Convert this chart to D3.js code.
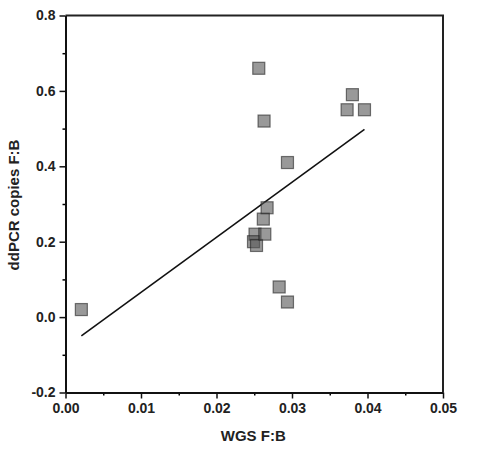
<!DOCTYPE html>
<html>
<head>
<meta charset="utf-8">
<script src="https://cdnjs.cloudflare.com/ajax/libs/d3/7.8.5/d3.min.js"></script>
<style>
  body { margin: 0; background: #fff; }
  text { font-family: "Liberation Sans", Arial, sans-serif; font-weight: bold; }
</style>
</head>
<body>
<div class="chart"></div>
<script>
// measured points (WGS F:B vs ddPCR copies F:B)
var wgs   = [0.0021, 0.0251, 0.0249, 0.0253, 0.0262, 0.0264, 0.0267, 0.0256, 0.0263, 0.0283, 0.0294, 0.0294, 0.0373, 0.0380, 0.0396];
var ddpcr = [0.02,   0.22,   0.20,   0.19,   0.26,   0.22,   0.29,   0.66,   0.52,   0.08,   0.04,   0.41,   0.55,   0.59,   0.55];
// fitted line end points
var fitX = [0.0021, 0.0396];
var fitY = [-0.05, 0.498];
var xTicks = [0, 0.01, 0.02, 0.03, 0.04, 0.05];
var yTicks = [-0.2, 0, 0.2, 0.4, 0.6, 0.8];

var margin = {top: 15.5, right: 37, bottom: 59.5, left: 65.5},
    width = 480 - margin.left - margin.right,
    height = 452 - margin.top - margin.bottom;

var svg = d3.select(".chart").append("svg")
    .attr("width", 480)
    .attr("height", 452);
var g = svg.append("g")
    .attr("transform", "translate(" + margin.left + "," + margin.top + ")");

var x = d3.scaleLinear().domain([0, 0.05]).range([0, width]);
var y = d3.scaleLinear().domain([-0.2, 0.8]).range([height, 0]);

// minor ticks first
g.append("g")
    .attr("transform", "translate(0," + height + ")")
    .call(d3.axisBottom(x).tickValues(d3.range(0.005, 0.05, 0.01)).tickSize(3).tickFormat(""))
    .call(function(a){ a.select(".domain").remove(); a.selectAll("line").attr("stroke-width", 1.5); });
g.append("g")
    .call(d3.axisLeft(y).tickValues([-0.1, 0.1, 0.3, 0.5, 0.7]).tickSize(3).tickFormat(""))
    .call(function(a){ a.select(".domain").remove(); a.selectAll("line").attr("stroke-width", 1.5); });

// frame (top and right)
g.append("path")
    .attr("d", "M0,0H" + width + "V" + height)
    .attr("fill", "none")
    .attr("stroke", "#222")
    .attr("stroke-width", 2);

var xAxis = g.append("g")
    .attr("transform", "translate(0," + height + ")")
    .call(d3.axisBottom(x).tickValues(xTicks).tickSize(6).tickSizeOuter(0).tickPadding(5)
        .tickFormat(function(d){ return d.toFixed(2); }));
var yAxis = g.append("g")
    .call(d3.axisLeft(y).tickValues(yTicks).tickSize(6).tickSizeOuter(0).tickPadding(4)
        .tickFormat(function(d){ return d.toFixed(1); }));   // plain hyphen for -0.2
[xAxis, yAxis].forEach(function(a){
    a.select(".domain").attr("stroke-width", 2).attr("stroke", "#111");
    a.selectAll(".tick line").attr("stroke-width", 1.5).attr("stroke", "#111");
    a.selectAll(".tick text").attr("font-size", 14).attr("fill", "#222");
});

// regression line
g.append("line")
    .attr("x1", x(fitX[0])).attr("y1", y(fitY[0]))
    .attr("x2", x(fitX[1])).attr("y2", y(fitY[1]))
    .attr("stroke", "#111")
    .attr("stroke-width", 1.6);

// points
var s = 12;
g.selectAll(".pt")
    .data(d3.range(wgs.length))
    .enter().append("rect")
    .attr("class", "pt")
    .attr("x", function(i){ return x(wgs[i]) - s / 2; })
    .attr("y", function(i){ return y(ddpcr[i]) - s / 2; })
    .attr("width", s)
    .attr("height", s)
    .attr("fill", "#555")
    .attr("fill-opacity", 0.6)
    .attr("stroke", "#222")
    .attr("stroke-opacity", 0.6)
    .attr("stroke-width", 1.2);

// axis titles
svg.append("text")
    .attr("x", margin.left + width / 2 - 1)
    .attr("y", 441)
    .attr("text-anchor", "middle")
    .attr("font-size", 15)
    .attr("fill", "#222")
    .text("WGS F:B");
svg.append("text")
    .attr("transform", "translate(19," + (margin.top + height / 2 + 1) + ") rotate(-90)")
    .attr("text-anchor", "middle")
    .attr("font-size", 15)
    .attr("fill", "#222")
    .text("ddPCR copies F:B");
</script>
</body>
</html>
